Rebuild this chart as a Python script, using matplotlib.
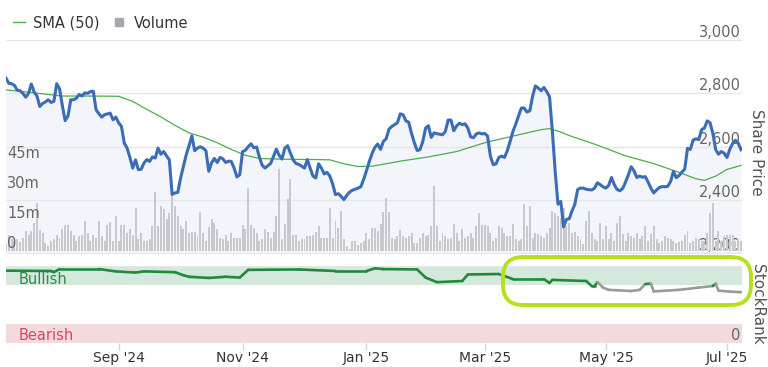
import numpy as np
import pandas as pd
import matplotlib
matplotlib.use("Agg")
import matplotlib.pyplot as plt
from matplotlib.lines import Line2D
from matplotlib.patches import FancyBboxPatch
from matplotlib.collections import LineCollection
import matplotlib.transforms as mtransforms

# trading days on the chart (ordinal axis, one bar per day)
days = pd.bdate_range("2024-07-08", periods=262)

# closing share price
price = [
    2857, 2838, 2836, 2830, 2812, 2810, 2800, 2786, 2800, 2835,
    2805, 2790, 2751, 2762, 2768, 2776, 2766, 2770, 2836, 2818,
    2755, 2698, 2715, 2776, 2776, 2782, 2796, 2790, 2802, 2800,
    2807, 2808, 2738, 2724, 2711, 2720, 2723, 2726, 2701, 2711,
    2690, 2676, 2614, 2595, 2560, 2520, 2551, 2514, 2516, 2539,
    2552, 2545, 2562, 2558, 2595, 2572, 2582, 2566, 2551, 2421,
    2427, 2429, 2483, 2526, 2570, 2604, 2641, 2585, 2595, 2600,
    2595, 2585, 2508, 2540, 2556, 2541, 2560, 2555, 2541, 2546,
    2545, 2520, 2487, 2495, 2582, 2587, 2600, 2611, 2596, 2599,
    2560, 2530, 2520, 2529, 2538, 2564, 2591, 2568, 2554, 2595,
    2604, 2576, 2550, 2537, 2534, 2527, 2520, 2552, 2520, 2490,
    2483, 2536, 2520, 2498, 2504, 2490, 2460, 2421, 2424, 2414,
    2402, 2418, 2430, 2437, 2441, 2445, 2450, 2478, 2510, 2545,
    2575, 2598, 2610, 2590, 2620, 2630, 2666, 2676, 2683, 2690,
    2723, 2720, 2697, 2692, 2650, 2615, 2586, 2589, 2620, 2670,
    2679, 2635, 2652, 2649, 2647, 2645, 2657, 2700, 2700, 2660,
    2678, 2688, 2683, 2686, 2670, 2637, 2634, 2648, 2652, 2648,
    2650, 2640, 2565, 2533, 2536, 2560, 2565, 2560, 2585, 2620,
    2657, 2685, 2715, 2745, 2745, 2730, 2735, 2790, 2828, 2820,
    2810, 2822, 2807, 2787, 2660, 2510, 2385, 2395, 2300, 2328,
    2330, 2360, 2385, 2440, 2445, 2445, 2441, 2439, 2438, 2445,
    2465, 2458, 2450, 2445, 2455, 2485, 2458, 2440, 2435, 2444,
    2468, 2495, 2525, 2510, 2485, 2490, 2486, 2488, 2468, 2445,
    2427, 2438, 2447, 2451, 2450, 2452, 2470, 2508, 2484, 2492,
    2505, 2516, 2594, 2590, 2625, 2630, 2627, 2664, 2670, 2697,
    2690, 2650, 2590, 2572, 2582, 2576, 2560, 2590, 2612, 2624,
    2614, 2589,
]

# daily volume, millions of shares
volume = [
    3.3, 7.8, 5.8, 5, 6, 4.5, 6.7, 10, 7.8, 10,
    14, 24, 10.5, 9, 4, 2.5, 5, 6, 8, 6.7,
    11, 13, 13, 10, 8, 5, 7.5, 8, 15, 9,
    5, 8, 6.7, 15, 7.5, 5, 13, 14.7, 5, 17.5,
    5, 13, 13, 9, 11, 8, 21.7, 6, 9, 5,
    5, 6, 12.5, 29.5, 12.5, 22.5, 21, 16, 19, 28.3,
    22.5, 17.5, 12.5, 11, 15, 9, 9.5, 9.5, 7.5, 19.5,
    9, 5, 12, 16, 14, 11, 6.7, 6, 7.8, 5,
    9, 6.7, 6.7, 6.7, 13, 11, 31.7, 13, 11.7, 9,
    5, 6, 11, 9.5, 6.7, 9.5, 17.5, 40.8, 6, 13.3,
    25.8, 35.8, 7.8, 7.8, 5, 6, 6, 7.5, 7.5, 7.8,
    9.5, 12.5, 6.7, 6.7, 6.7, 21.7, 6.7, 15, 11.7, 20,
    6, 2.5, 1, 5, 5, 2.8, 4, 5, 9, 6,
    11.7, 11.7, 10, 13.3, 19.5, 26.7, 19.5, 6.7, 6, 7.5,
    10.5, 7.5, 6.7, 7.5, 9, 4, 4, 6.7, 9, 7.5,
    7.8, 12.5, 32.5, 12.5, 5, 9, 7.5, 6, 6.7, 13.3,
    9, 5, 10.8, 6.7, 7.5, 9, 6.7, 12.5, 19, 12.8,
    12.8, 12.5, 9, 5, 6.7, 12.5, 11.7, 9, 7.5, 7.5,
    13.3, 6, 5, 6, 23.3, 12.5, 22.5, 6.7, 9, 8.3,
    7.5, 6.7, 9, 11.7, 20, 19, 17.5, 16.7, 21.7, 12.5,
    14, 9, 9.5, 7.5, 6, 3.3, 15, 20, 9, 6,
    5, 13.8, 6, 12.5, 6, 9, 5, 14, 17.5, 8.3,
    5, 9, 7.5, 6.7, 9, 6, 7.5, 12.5, 5, 8.3,
    12.5, 6, 4, 5, 7.5, 6.7, 6, 5, 4, 4.5,
    5, 7.8, 10, 4, 5, 6.7, 6, 5, 5, 9,
    19, 24, 5, 10, 5, 7.5, 7.8, 7.8, 7.8, 5,
    6, 5,
]

# 50 day simple moving average, read at selected days
sma_dates = [
    "2024-07-08", "2024-07-22", "2024-08-05", "2024-08-19", "2024-09-02",
    "2024-09-09", "2024-09-16", "2024-09-23", "2024-09-30", "2024-10-07",
    "2024-10-14", "2024-10-21", "2024-10-28", "2024-11-04", "2024-11-11",
    "2024-11-25", "2024-12-09", "2024-12-16", "2024-12-23", "2024-12-30",
    "2025-01-06", "2025-01-20", "2025-02-03", "2025-02-17", "2025-03-03",
    "2025-03-17", "2025-03-31", "2025-04-03", "2025-04-09", "2025-04-14",
    "2025-04-28", "2025-05-12", "2025-05-26", "2025-06-09", "2025-06-16",
    "2025-06-19", "2025-06-25", "2025-07-01", "2025-07-08",
]
sma_values = [
    2813, 2802, 2790, 2790, 2789,
    2770, 2740, 2712, 2680, 2652,
    2636, 2615, 2590, 2568, 2556,
    2553, 2552, 2551, 2536, 2526,
    2527, 2546, 2562, 2582, 2615,
    2640, 2664, 2668, 2655, 2642,
    2606, 2566, 2537, 2500, 2480,
    2474, 2490, 2515, 2530,
]

# StockRank score
rank_dates = [
    "2024-07-08", "2024-07-30", "2024-07-31", "2024-08-02", "2024-08-22",
    "2024-08-30", "2024-09-10", "2024-09-13", "2024-09-30", "2024-10-03",
    "2024-10-07", "2024-10-16", "2024-10-24", "2024-10-31", "2024-11-05",
    "2024-11-29", "2024-12-18", "2025-01-02", "2025-01-07", "2025-01-10",
    "2025-01-28", "2025-01-31", "2025-02-06", "2025-02-19", "2025-02-21",
    "2025-03-10", "2025-03-17", "2025-04-01", "2025-04-03", "2025-04-04",
    "2025-04-22", "2025-04-24", "2025-04-25", "2025-04-28", "2025-04-30",
    "2025-05-02", "2025-05-14", "2025-05-19", "2025-05-21", "2025-05-23",
    "2025-05-26", "2025-06-06", "2025-06-17", "2025-06-24", "2025-06-25",
    "2025-06-26", "2025-07-02", "2025-07-08",
]
rank_values = [
    94, 93.5, 92, 96, 96,
    93, 91.5, 93, 92, 88,
    86, 84.5, 86, 85, 95,
    95.5, 93.5, 93.5, 97, 96,
    95.5, 85, 79, 80.5, 89,
    89.6, 83, 83, 78, 82,
    80.5, 74, 74, 79, 72,
    69, 67.5, 69, 76.5, 77,
    67, 69, 72, 74, 77,
    68, 66.7, 66,
]

month_ticks = ["2024-09-02", "2024-11-01", "2025-01-02", "2025-03-03", "2025-05-01", "2025-07-01"]
month_labels = ["Sep '24", "Nov '24", "Jan '25", "Mar '25", "May '25", "Jul '25"]
price_ticks = [2200, 2400, 2600, 2800, 3000]
volume_ticks = [0, 15, 30, 45]
volume_labels = ["0", "15m", "30m", "45m"]

W, H = 768, 367
plt.rcParams["font.family"] = "DejaVu Sans"


def rect(l, t, r, b):
    # pixel box (top-left origin) -> figure fraction
    return [l / W, 1 - b / H, (r - l) / W, (b - t) / H]


def pos(dates):
    return days.get_indexer(pd.to_datetime(dates))


x = np.arange(len(days))
xlim = (0, len(days) - 0.65)

fig = plt.figure(figsize=(W / 100, H / 100), dpi=100)

# price background: fill + grid + labels
ax_bg = fig.add_axes(rect(6, 40, 742, 253.5))
ax_bg.fill_between(x, price, 2200, color="#f3f5fb", lw=0)
ax_bg.set_ylim(2200, 3000)
ax_bg.set_xlim(*xlim)
ax_bg.set_axisbelow(False)
ax_bg.grid(axis="y", color="#e6e6e6", lw=1)
ax_bg.yaxis.tick_right()
ax_bg.set_yticks(price_ticks)
ax_bg.set_yticklabels([f"{v:,}" for v in price_ticks])
ax_bg.tick_params(axis="y", length=0, pad=-1, labelsize=10.5, labelcolor="#666666")
for lab in ax_bg.get_yticklabels():
    lab.set_ha("right")
    lab.set_va("bottom")
ax_bg.tick_params(axis="x", bottom=False, labelbottom=False)
for s in ax_bg.spines.values():
    s.set_visible(False)

# volume bars
ax_vol = fig.add_axes(rect(6, 40, 742, 253.5), sharex=ax_bg)
ax_vol.patch.set_visible(False)
ax_vol.bar(x, volume, width=0.7, color="#c8c9cf", lw=0)
ax_vol.set_ylim(-1.25, 105.5)
ax_vol.set_yticks(volume_ticks)
ax_vol.set_yticklabels(volume_labels)
ax_vol.tick_params(axis="y", length=0, pad=-1, labelsize=10.5, labelcolor="#666666")
for lab in ax_vol.get_yticklabels():
    lab.set_ha("left")
    lab.set_va("bottom")
ax_vol.tick_params(axis="x", bottom=False, labelbottom=False)
for s in ax_vol.spines.values():
    s.set_visible(False)

# price line and SMA on top
ax_px = fig.add_axes(rect(6, 40, 742, 253.5), sharex=ax_bg, sharey=ax_bg)
ax_px.patch.set_visible(False)
ax_px.plot(pos(sma_dates), sma_values, color="#4cae4c", lw=0.9)
ax_px.plot(x, price, color="#3a6db5", lw=2.2, solid_joinstyle="round")
ax_px.axis("off")

# StockRank panel
ax_r = fig.add_axes(rect(6, 266, 742, 343), sharex=ax_bg)
ax_r.set_ylim(0, 100)
ax_r.axhspan(75, 100, color="#d4e9dc", lw=0)
ax_r.axhspan(0, 25, color="#f5dadb", lw=0)
ax_r.axhline(100, color="#e6e6e6", lw=1)
rx = pos(rank_dates)
rv = np.array(rank_values)
pts = np.column_stack([rx, rv])
segs = np.stack([pts[:-1], pts[1:]], axis=1)
cols = np.where(np.minimum(rv[:-1], rv[1:]) >= 73.5, "#1f8a3c", "#9a9a9a")
ax_r.add_collection(LineCollection(segs, colors=cols, linewidths=1.9, capstyle="round"))
ax_r.text(13 / 736, 83, "Bullish", transform=ax_r.get_yaxis_transform(),
          color="#2f8a4c", fontsize=10.5, va="center", ha="left")
ax_r.text(13 / 736, 10, "Bearish", transform=ax_r.get_yaxis_transform(),
          color="#d9455f", fontsize=10.5, va="center", ha="left")
ax_r.yaxis.tick_right()
ax_r.set_yticks([0])
ax_r.set_yticklabels(["0"])
ax_r.tick_params(axis="y", length=0, pad=-1, labelsize=10.5, labelcolor="#666666")
for lab in ax_r.get_yticklabels():
    lab.set_ha("right")
    lab.set_va("bottom")
ax_r.set_xticks(pos(month_ticks))
ax_r.set_xticklabels(month_labels)
ax_r.tick_params(axis="x", length=5, width=1, color="#ccd6eb", labelsize=10,
                 labelcolor="#333333", pad=1)
for s in ax_r.spines.values():
    s.set_visible(False)
ax_r.set_xlim(*xlim)

# axis titles
fig.text(757 / W, 1 - 152 / H, "Share Price", rotation=270, ha="center", va="center",
         fontsize=11, color="#555555")
fig.text(757 / W, 1 - 304 / H, "StockRank", rotation=270, ha="center", va="center",
         fontsize=11, color="#555555")

# legend
handles = [Line2D([], [], color="#4cae4c", lw=1),
           Line2D([], [], marker="s", ls="none", color="#a7a8ae", markersize=6)]
leg = fig.legend(handles, ["SMA (50)", "Volume"], loc="center left",
                 bbox_to_anchor=(13 / W, 1 - 23 / H), ncol=2, frameon=False,
                 fontsize=10.5, handlelength=0.8, handletextpad=0.6,
                 columnspacing=0.9, borderaxespad=0, borderpad=0)
for t in leg.get_texts():
    t.set_color("#333333")

# highlight drawn around the recent StockRank drop
hl = FancyBboxPatch((503, H - 305), 248, 48, boxstyle="round,pad=0,rounding_size=20",
                    transform=mtransforms.IdentityTransform(), fill=False,
                    ec="#b6e01e", lw=2.8)
fig.add_artist(hl)

fig.savefig("out.png", dpi=100)
